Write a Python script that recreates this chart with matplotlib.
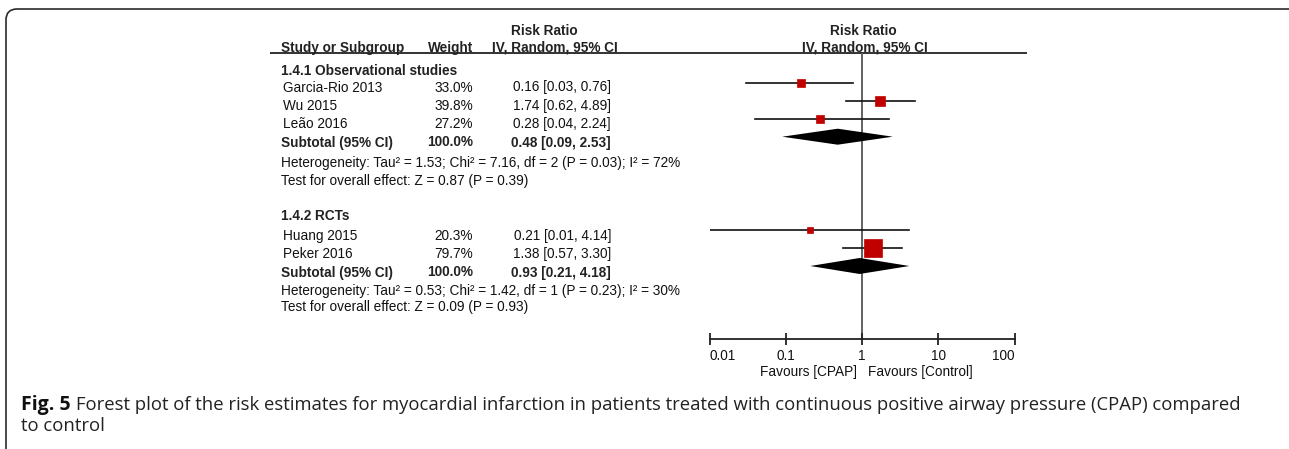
import matplotlib
matplotlib.use("Agg")
import matplotlib.pyplot as plt
from matplotlib.patches import FancyBboxPatch
import numpy as np

# Study data
studies = ["Garcia-Rio 2013", "Wu 2015", "Leão 2016", "Huang 2015", "Peker 2016"]
weights = [33.0, 39.8, 27.2, 20.3, 79.7]
rr = [0.16, 1.74, 0.28, 0.21, 1.38]
rr_lo = [0.03, 0.62, 0.04, 0.01, 0.57]
rr_hi = [0.76, 4.89, 2.24, 4.14, 3.30]

# Subgroup data
groups = ["1.4.1 Observational studies", "1.4.2 RCTs"]
sub_rr = [0.48, 0.93]
sub_lo = [0.09, 0.21]
sub_hi = [2.53, 4.18]
het_text = ["Heterogeneity: Tau² = 1.53; Chi² = 7.16, df = 2 (P = 0.03); I² = 72%",
            "Heterogeneity: Tau² = 0.53; Chi² = 1.42, df = 1 (P = 0.23); I² = 30%"]
test_text = ["Test for overall effect: Z = 0.87 (P = 0.39)",
             "Test for overall effect: Z = 0.09 (P = 0.93)"]

xticks = [0.01, 0.1, 1, 10, 100]
xtick_labels = ["0.01", "0.1", "1", "10", "100"]

caption_bold = "Fig. 5"
caption_line1 = ("Forest plot of the risk estimates for myocardial infarction in patients "
                 "treated with continuous positive airway pressure (CPAP) compared")
caption_line2 = "to control"

# Layout (pixel rows)
W, H = 1289, 449
study_y = [82.7, 101, 119.3, 230, 248.3]         # marker centres
study_base = [91.5, 109.8, 127.8, 239.8, 257.8]  # text baselines
group_base = [75, 219.8]
sub_y = [136.7, 266]
sub_base = [146.5, 276.5]
het_base = [166.5, 294.8]
test_base = [184.8, 311.5]

FS = 9.8
FONT = "Liberation Sans"
RED = "#c00000"
plt.rcParams["font.family"] = [FONT, "DejaVu Sans"]

fig = plt.figure(figsize=(W / 100, H / 100), dpi=100)
fig.patch.set_facecolor("white")

# background axes in pixel coordinates
bg = fig.add_axes([0, 0, 1, 1])
bg.set_xlim(0, W)
bg.set_ylim(H, 0)
bg.axis("off")

# outer rounded frame (right and bottom edges fall off the image)
frame = FancyBboxPatch((6, 9), 1300, 460, boxstyle="round,pad=0,rounding_size=11",
                       fill=False, ec="#2a2a2a", lw=1.2, clip_on=True)
bg.add_patch(frame)

# header
bg.text(544, 35, "Risk Ratio", fontsize=FS, fontweight="bold", ha="center", va="baseline", color="#222")
bg.text(863, 35, "Risk Ratio", fontsize=FS, fontweight="bold", ha="center", va="baseline", color="#222")
bg.text(281, 52, "Study or Subgroup", fontsize=FS, fontweight="bold", ha="left", va="baseline", color="#222")
bg.text(473, 52, "Weight", fontsize=FS, fontweight="bold", ha="right", va="baseline", color="#222")
bg.text(555, 52, "IV, Random, 95% CI", fontsize=FS, fontweight="bold", ha="center", va="baseline", color="#222")
bg.text(865, 52, "IV, Random, 95% CI", fontsize=FS, fontweight="bold", ha="center", va="baseline", color="#222")
bg.plot([270, 1027], [53, 53], color="#222", lw=1.3, solid_capstyle="butt")

# study rows
for i, name in enumerate(studies):
    b = study_base[i]
    bg.text(283, b, name, fontsize=FS, ha="left", va="baseline", color="#111")
    bg.text(473, b, "%.1f%%" % weights[i], fontsize=FS, ha="right", va="baseline", color="#111")
    bg.text(611, b, "%.2f [%.2f, %.2f]" % (rr[i], rr_lo[i], rr_hi[i]), fontsize=FS,
            ha="right", va="baseline", color="#111")

# subgroup rows
for g in range(len(groups)):
    bg.text(281, group_base[g], groups[g], fontsize=FS, fontweight="bold", ha="left", va="baseline", color="#222")
    bg.text(281, sub_base[g], "Subtotal (95% CI)", fontsize=FS, fontweight="bold", ha="left", va="baseline", color="#222")
    bg.text(473, sub_base[g], "100.0%", fontsize=FS, fontweight="bold", ha="right", va="baseline", color="#222")
    bg.text(611, sub_base[g], "%.2f [%.2f, %.2f]" % (sub_rr[g], sub_lo[g], sub_hi[g]), fontsize=FS,
            fontweight="bold", ha="right", va="baseline", color="#222")
    bg.text(281, het_base[g], het_text[g], fontsize=FS, ha="left", va="baseline", color="#111")
    bg.text(281, test_base[g], test_text[g], fontsize=FS, ha="left", va="baseline", color="#111")

# forest axes: log scale, y in pixel rows
x0, x1, ytop, ybot = 709.5, 1014.5, 53, 339
ax = fig.add_axes([x0 / W, 1 - ybot / H, (x1 - x0) / W, (ybot - ytop) / H])
ax.set_facecolor("none")
ax.set_xscale("log")
ax.set_xlim(0.01, 100)
ax.set_ylim(ybot, ytop)
for s in ["top", "left", "right"]:
    ax.spines[s].set_visible(False)
ax.spines["bottom"].set_linewidth(1.3)
ax.spines["bottom"].set_color("#222")
ax.set_yticks([])
ax.set_xticks(xticks)
ax.set_xticklabels(xtick_labels)
ax.xaxis.set_minor_locator(matplotlib.ticker.NullLocator())
ax.tick_params(axis="x", direction="inout", length=8, width=1.3, color="#222",
               labelsize=FS, pad=3, labelcolor="#111")
labs = ax.get_xticklabels()
labs[0].set_ha("left")
labs[-1].set_ha("right")

ax.axvline(1, color="#555", lw=1.3, zorder=1)

for i in range(len(studies)):
    ax.plot([rr_lo[i], rr_hi[i]], [study_y[i], study_y[i]], color="#111", lw=1.2, zorder=2)
    side = 2 + 0.19 * weights[i]
    ax.plot(rr[i], study_y[i], marker="s", ms=side * 0.72, mfc=RED, mec=RED, mew=0.5, zorder=3)

for g in range(len(groups)):
    y = sub_y[g]
    ax.fill([sub_lo[g], sub_rr[g], sub_hi[g], sub_rr[g]], [y, y - 8, y, y + 8],
            color="black", lw=0, zorder=3)

# favours labels
bg.text(857, 376, "Favours [CPAP]", fontsize=FS, ha="right", va="baseline", color="#111")
bg.text(868, 376, "Favours [Control]", fontsize=FS, ha="left", va="baseline", color="#111")

# caption
CFS = 13.3
t = bg.text(21, 410, caption_bold, fontsize=14, fontweight="bold", family="Open Sans",
            ha="left", va="baseline", color="#111")
fig.canvas.draw()
bb = t.get_window_extent(renderer=fig.canvas.get_renderer())
bg.text(bb.x1 + 5, 410, caption_line1, fontsize=CFS, family="Open Sans",
        ha="left", va="baseline", color="#222")
bg.text(21, 431, caption_line2, fontsize=CFS, family="Open Sans",
        ha="left", va="baseline", color="#222")

fig.savefig("out.png", dpi=100)
